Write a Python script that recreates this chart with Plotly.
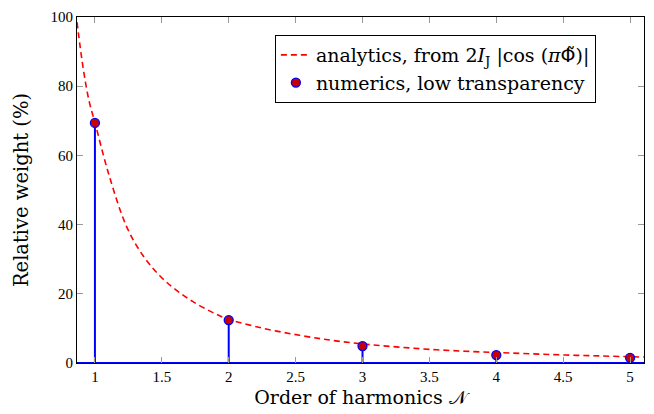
import plotly.graph_objects as go

# numerics (stems + markers)
harmonic_order = [1, 2, 3, 4, 5]
relative_weight = [69.4, 12.4, 4.9, 2.3, 1.5]

# analytic curve
curve_x = [0.866, 0.913, 0.957, 1.0, 1.1, 1.236, 1.36, 1.485, 1.61, 1.73, 1.86, 1.98, 2.25, 2.53, 2.78, 3.03, 3.27, 3.52, 3.77, 4.02, 4.27, 4.52, 4.77, 5.01, 5.104]
curve_y = [98.5, 85.0, 75.6, 69.5, 55.0, 39.5, 31.0, 25.2, 21.0, 17.8, 15.0, 12.9, 10.1, 8.0, 6.5, 5.4, 4.6, 3.9, 3.4, 3.0, 2.65, 2.3, 2.05, 1.8, 1.72]

x_ticks = [1, 1.5, 2, 2.5, 3, 3.5, 4, 4.5, 5]
x_tick_labels = ["1", "1.5", "2", "2.5", "3", "3.5", "4", "4.5", "5"]
y_ticks = [0, 20, 40, 60, 80, 100]

FONT = "Liberation Serif"
TEXTFONT = "DejaVu Serif"

stem_x, stem_y = [], []
for xv, yv in zip(harmonic_order, relative_weight):
    stem_x += [xv, xv, None]
    stem_y += [0, yv, None]

analytic_name = ("analytics, from 2<i>I</i><sub>J</sub> |cos (<i>π</i>"
                 "<span style=\"font-family:'DejaVu Sans'\">Φ\u0303</span>)|")

fig = go.Figure()
fig.add_trace(go.Scatter(x=curve_x, y=curve_y, mode="lines",
                         line=dict(color="red", dash="6px,4px", width=1.6, shape="spline"),
                         name=analytic_name))
fig.add_trace(go.Scatter(x=stem_x, y=stem_y, mode="lines", line=dict(color="blue", width=2),
                         showlegend=False, hoverinfo="skip"))
fig.add_trace(go.Scatter(x=[0.866, 5.104], y=[0, 0], mode="lines", line=dict(color="blue", width=2),
                         showlegend=False, hoverinfo="skip"))
fig.add_trace(go.Scatter(x=harmonic_order, y=relative_weight, mode="markers",
                         marker=dict(color="#c80000", size=9, line=dict(color="blue", width=1.3)),
                         name="numerics, low transparency"))

fig.update_layout(
    width=654, height=414,
    margin=dict(l=77, r=9, t=15, b=51),
    paper_bgcolor="white", plot_bgcolor="white",
    font=dict(family=FONT, size=14, color="black"),
    legend=dict(x=0.349, y=0.948, xanchor="left", yanchor="top", bordercolor="black", borderwidth=1,
                bgcolor="white", font=dict(size=19, family=TEXTFONT), tracegroupgap=0, itemwidth=30),
    showlegend=True,
)
fig.update_xaxes(range=[0.866, 5.104], tickvals=x_ticks, ticktext=x_tick_labels, ticks="inside", ticklen=6,
                 tickcolor="#999999", showgrid=False, zeroline=False, showline=True, linecolor="black",
                 linewidth=1, mirror="allticks",
                 title=dict(text="Order of harmonics 𝒩", font=dict(size=19, family=TEXTFONT), standoff=6),
                 tickfont=dict(size=15))
fig.update_yaxes(range=[0, 100], tickvals=y_ticks, ticks="inside", ticklen=6, tickcolor="#999999",
                 showgrid=False, zeroline=False, showline=True, linecolor="black", linewidth=1, mirror="allticks",
                 title=dict(text="Relative weight (%)", font=dict(size=19.5, family=TEXTFONT), standoff=16),
                 tickfont=dict(size=15))

fig.write_html("out.html", config={"displayModeBar": False},
               post_script="document.body.style.margin='0';document.body.style.overflow='hidden';")
